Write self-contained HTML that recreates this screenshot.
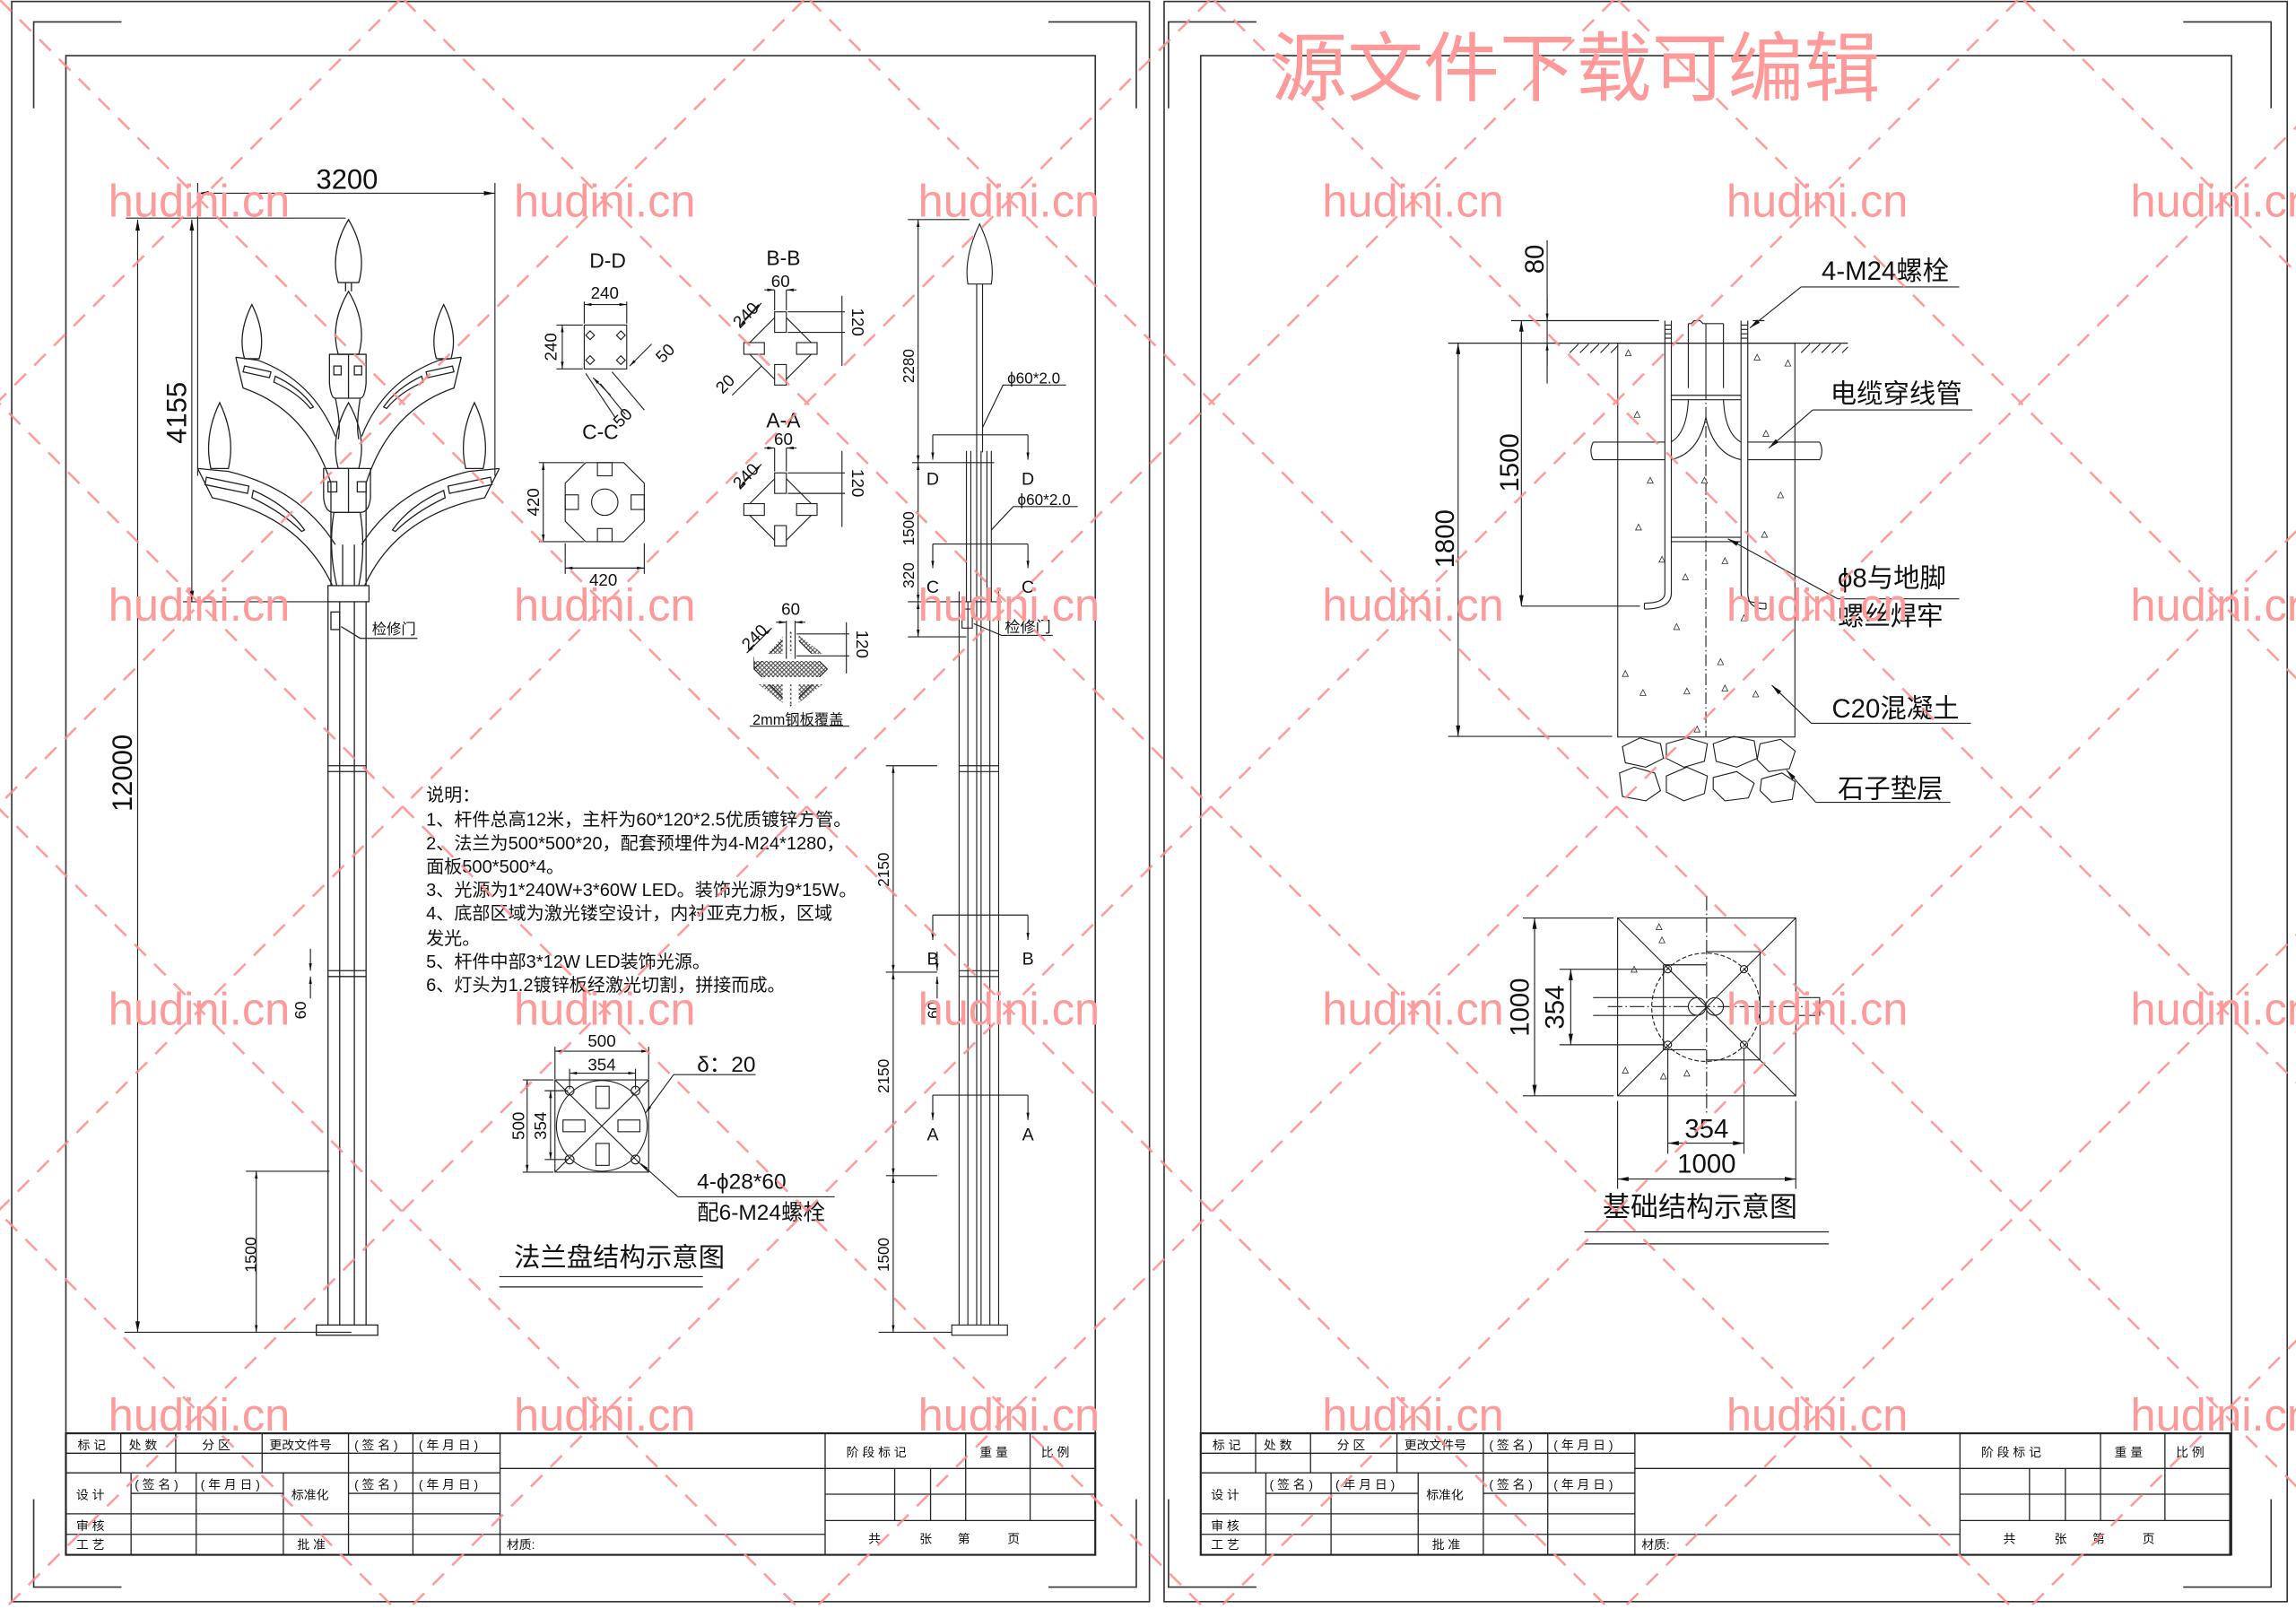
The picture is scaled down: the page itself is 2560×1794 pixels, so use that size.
<!DOCTYPE html>
<html><head><meta charset="utf-8"><style>
html,body{margin:0;padding:0;background:#fff;}
svg{display:block;}
text{font-family:"Liberation Sans","Noto Sans CJK SC",sans-serif;fill:#111;}
text.wm{fill:#ff9a9a;}
</style></head><body>
<svg width="2560" height="1794" viewBox="0 0 1568 1099" preserveAspectRatio="none" xmlns="http://www.w3.org/2000/svg">
<defs>
<marker id="ar" viewBox="0 0 10 4" refX="10" refY="2" markerWidth="8" markerHeight="3" orient="auto-start-reverse" markerUnits="userSpaceOnUse"><path d="M0,0 L10,2 L0,4z" fill="#111"/></marker>
<marker id="as" viewBox="0 0 10 4" refX="10" refY="2" markerWidth="5" markerHeight="2" orient="auto-start-reverse" markerUnits="userSpaceOnUse"><path d="M0,0 L10,2 L0,4z" fill="#111"/></marker>
<pattern id="hx" width="3" height="3" patternUnits="userSpaceOnUse"><rect width="3" height="3" fill="#fff"/><path d="M0,0L3,3M3,0L0,3" stroke="#444" stroke-width="0.6"/></pattern>
</defs>
<rect width="1568" height="1099" fill="#fff"/>

<!-- sheet frames -->
<g fill="none" stroke="#333" stroke-width="1">
<rect x="8" y="1" width="777" height="1093"/>
<rect x="795" y="1" width="767" height="1093"/>
<rect x="45" y="38" width="703" height="1024"/>
<rect x="820" y="38" width="704" height="1024"/>
<path d="M23,74V15H83 M23,1024V1084H83 M776,74V15H716 M776,1024V1084H716"/>
<path d="M798,74V15H858 M798,1024V1084H858 M1551,74V15H1491 M1551,1024V1084H1491"/>
</g>

<!-- title blocks -->
<g id="tb">
<g fill="none" stroke="#222" stroke-width="0.8">
<rect x="45" y="979" width="703" height="83" stroke-width="1.3"/>
<path d="M45,992.6H341.5 M45,1006H341.5 M341.5,979V1062 M563.5,979V1062"/>
<path d="M82.5,979V1006 M120,979V1006 M179,979V1006 M238,979V1062 M282,979V1062"/>
<path d="M89.5,1006V1062 M134,1006V1062 M193.5,1006V1062"/>
<path d="M89.5,1020H134 M134,1020H193.5 M238,1020H341.5 M45,1034H341.5 M45,1048H341.5"/>
<path d="M341.5,1003H563.5 M341.5,1048H563.5"/>
<path d="M563.5,1003H748 M563.5,1020.6H748 M563.5,1038.6H748 M659.5,979V1038.6 M703.5,979V1038.6 M611,1003V1038.6 M635.5,1003V1038.6"/>
</g>
<g font-size="8.5">
<text x="53" y="990">标 记</text><text x="88" y="990">处 数</text><text x="138" y="990">分 区</text><text x="184" y="990">更改文件号</text><text x="242" y="990">( 签 名 )</text><text x="286" y="990">( 年 月 日 )</text>
<text x="52" y="1024">设 计</text><text x="92" y="1017">( 签 名 )</text><text x="137" y="1017">( 年 月 日 )</text><text x="199" y="1024">标准化</text><text x="242" y="1017">( 签 名 )</text><text x="286" y="1017">( 年 月 日 )</text>
<text x="52" y="1045">审 核</text><text x="52" y="1058">工 艺</text><text x="203" y="1058">批 准</text><text x="346" y="1058">材质:</text>
<text x="578" y="995">阶 段 标 记</text><text x="669" y="995">重 量</text><text x="711" y="995">比 例</text>
<text x="593" y="1054">共</text><text x="628" y="1054">张</text><text x="654" y="1054">第</text><text x="688" y="1054">页</text>
</g>
</g>
<use href="#tb" transform="translate(775,0)"/>

<!-- ===== LEFT: lamp elevation ===== -->
<g fill="none" stroke="#222" stroke-width="0.8">
<path d="M238,150 Q251,172 245,193 L231,193 Q225,172 238,150Z"/>
<path d="M238,199 Q251,221 245,242 L231,242 Q225,221 238,199Z"/>
<path d="M172,208 Q182,228 177,245 L167,245 Q162,228 172,208Z"/>
<path d="M303,208 Q313,228 308,245 L298,245 Q293,228 303,208Z"/>
<path d="M150,275 Q161,298 156,320 L144,320 Q139,298 150,275Z"/>
<path d="M324,275 Q335,298 330,320 L318,320 Q313,298 324,275Z"/>
<path d="M238,275 Q251,298 245,320 L231,320 Q225,298 238,275Z"/>
<path d="M236,193V199 M240,193V199"/>
<path d="M225,242H250V262Q249,272 246,272H229Q226,272 225,262Z M238,242V272"/>
<rect x="228" y="250" width="5" height="6"/><rect x="242" y="250" width="5" height="6"/>
<path d="M229,272 Q233,290 231,300 M246,272 Q243,290 245,300"/>
<path d="M221,320H253V340Q252,350 246,350H228Q222,350 221,340Z M238,320V350"/>
<rect x="224" y="329" width="6" height="7"/><rect x="244" y="329" width="6" height="7"/>
<path d="M228,350 Q224,375 230,400 M246,350 Q250,375 245,400"/>
<path d="M161,244 L176,246 Q214,260 229,298 M161,244 L166,265 Q210,280 226,330 L226,400"/>
<path d="M315,244 L300,246 Q262,260 247,298 M315,244 L310,265 Q266,280 250,330 L250,400"/>
<path d="M167,250 L185,254 L184,258 L166,254Z M188,257 Q205,265 214,278 L212,279 Q203,268 187,261Z"/>
<path d="M309,250 L291,254 L292,258 L310,254Z M288,257 Q271,265 262,278 L264,279 Q273,268 289,261Z"/>
<path d="M135,320 L156,322 Q205,334 229,372 M135,320 L145,340 Q205,352 227,400"/>
<path d="M341,320 L320,322 Q271,334 247,372 M341,320 L331,340 Q271,352 249,400"/>
<path d="M141,326 L170,332 L169,337 L140,331Z M173,335 Q196,345 208,362 L206,363 Q193,350 172,340Z"/>
<path d="M335,326 L306,332 L307,337 L336,331Z M303,335 Q280,345 268,362 L270,363 Q283,350 304,340Z"/>
<path d="M234,372V400 M242,372V400"/>
<rect x="224" y="400" width="28" height="11"/>
<path d="M224,411V905 M250,411V905 M232,411V905 M242,411V905"/>
<path d="M224,523H250 M224,527H250 M224,663H250 M224,667H250"/>
<rect x="216" y="905" width="42" height="7"/>
<rect x="226" y="418" width="6" height="12"/>
<path d="M233,428 L246,436 H285"/>
</g>
<text x="254" y="433" font-size="10">检修门</text>
<g stroke="#222" stroke-width="0.7" fill="none">
<path d="M135,125V325 M338,125V325 M86,149H236 M125,411H226 M85,910H240 M168,800H225"/>
<line x1="135" y1="132" x2="338" y2="132" marker-start="url(#ar)" marker-end="url(#ar)"/>
<line x1="131" y1="150" x2="131" y2="411" marker-start="url(#ar)" marker-end="url(#ar)"/>
<line x1="94" y1="150" x2="94" y2="910" marker-start="url(#ar)" marker-end="url(#ar)"/>
<line x1="175" y1="800" x2="175" y2="910" marker-start="url(#as)" marker-end="url(#as)"/>
<line x1="212" y1="648" x2="212" y2="663" marker-end="url(#as)"/>
<line x1="212" y1="682" x2="212" y2="667" marker-end="url(#as)"/>
</g>
<text x="237" y="129" font-size="19" text-anchor="middle">3200</text>
<text x="127" y="282" font-size="19" text-anchor="middle" transform="rotate(-90 127 282)">4155</text>
<text x="90" y="528" font-size="19" text-anchor="middle" transform="rotate(-90 90 528)">12000</text>
<text x="175" y="857" font-size="11" text-anchor="middle" transform="rotate(-90 175 857)">1500</text>
<text x="209" y="690" font-size="11" text-anchor="middle" transform="rotate(-90 209 690)">60</text>

<!-- ===== sections ===== -->
<g font-size="14" text-anchor="middle">
<text x="415" y="183">D-D</text><text x="410" y="300">C-C</text><text x="535" y="181">B-B</text><text x="535" y="292">A-A</text>
</g>
<g fill="none" stroke="#222" stroke-width="0.7">
<rect x="399" y="222" width="29" height="30"/>
<path d="M403,226l3,3-3,3-3-3z M424,226l3,3-3,3-3-3z M403,243l3,3-3,3-3-3z M424,243l3,3-3,3-3-3z"/>
<path d="M399,206V221 M428,206V221 M380,222H398 M380,252H398 M410,262L427,283 M418,254L440,280 M400,255L420,285"/>
<line x1="399" y1="208" x2="428" y2="208" marker-start="url(#as)" marker-end="url(#as)"/>
<line x1="384" y1="222" x2="384" y2="252" marker-start="url(#as)" marker-end="url(#as)"/>
<line x1="405" y1="258" x2="417" y2="270" marker-start="url(#as)"/>
<line x1="430" y1="250" x2="445" y2="235" marker-start="url(#as)"/>
<path d="M400,316H426L440,330V356L426,370H400L386,356V330Z"/>
<circle cx="413" cy="343" r="9"/>
<rect x="408" y="316" width="10" height="9"/><rect x="408" y="361" width="10" height="9"/><rect x="386" y="338" width="9" height="10"/><rect x="431" y="338" width="9" height="10"/>
<path d="M368,316H399 M368,370H399 M386,371V392 M440,371V392"/>
<line x1="371" y1="316" x2="371" y2="370" marker-start="url(#as)" marker-end="url(#as)"/>
<line x1="386" y1="388" x2="440" y2="388" marker-start="url(#as)" marker-end="url(#as)"/>
<path d="M533,213L558,238L533,263L508,238Z"/>
<rect x="529" y="213" width="8" height="14" fill="#fff"/><rect x="529" y="249" width="8" height="14" fill="#fff"/><rect x="508" y="234" width="14" height="8" fill="#fff"/><rect x="544" y="234" width="14" height="8" fill="#fff"/>
<path d="M529,198V212 M537,198V212 M538,213H577 M538,227H577 M575,202V250 M518,208L509,218 M500,270L520,250"/>
<line x1="522" y1="198" x2="529" y2="198" marker-end="url(#as)"/><line x1="544" y1="198" x2="537" y2="198" marker-end="url(#as)"/>
<line x1="505" y1="223" x2="520" y2="207" marker-start="url(#as)" marker-end="url(#as)"/>
<path d="M533,323L558,348L533,373L508,348Z"/>
<rect x="529" y="323" width="8" height="14" fill="#fff"/><rect x="529" y="359" width="8" height="14" fill="#fff"/><rect x="508" y="344" width="14" height="8" fill="#fff"/><rect x="544" y="344" width="14" height="8" fill="#fff"/>
<path d="M529,306V322 M537,306V322 M538,323H577 M538,337H577 M575,308V360"/>
<line x1="522" y1="306" x2="529" y2="306" marker-end="url(#as)"/><line x1="544" y1="306" x2="537" y2="306" marker-end="url(#as)"/>
<line x1="505" y1="333" x2="520" y2="317" marker-start="url(#as)" marker-end="url(#as)"/>
<path d="M540,432L565,457L540,482L515,457Z M537,432V449H515V457 M543,432V449H565 M515,465H537V482 M543,482V465H565" fill="url(#hx)"/>
<path d="M537,432V449 M543,432V449 M537,482V465 M543,482V465 M515,449H565 M515,465H565" stroke="#fff" stroke-width="5"/>
<path d="M537,424V450 M543,424V450 M544,433H580 M544,448H580 M578,425V460 M512,496H580"/>
<line x1="530" y1="425" x2="537" y2="425" marker-end="url(#as)"/><line x1="550" y1="425" x2="543" y2="425" marker-end="url(#as)"/>
<line x1="510" y1="446" x2="527" y2="429" marker-start="url(#as)" marker-end="url(#as)"/>
</g>
<g font-size="11.5" text-anchor="middle">
<text x="413" y="204">240</text><text x="412" y="400">420</text><text x="533" y="196">60</text><text x="535" y="304">60</text><text x="540" y="420">60</text>
<text x="380" y="237" transform="rotate(-90 380 237)">240</text>
<text x="368" y="343" transform="rotate(-90 368 343)">420</text>
<text x="582" y="220" transform="rotate(90 582 220)">120</text>
<text x="582" y="330" transform="rotate(90 582 330)">120</text>
<text x="585" y="440" transform="rotate(90 585 440)">120</text>
<text x="512" y="218" transform="rotate(-45 512 218)">240</text>
<text x="512" y="328" transform="rotate(-45 512 328)">240</text>
<text x="518" y="438" transform="rotate(-45 518 438)">240</text>
<text x="498" y="265" transform="rotate(-45 498 265)">20</text>
<text x="457" y="244" transform="rotate(-45 457 244)">50</text>
<text x="428" y="288" transform="rotate(-45 428 288)">50</text>
<text x="545" y="495" font-size="10">2mm钢板覆盖</text>
</g>

<!-- ===== right pole (left sheet) ===== -->
<g fill="none" stroke="#222" stroke-width="0.7">
<path d="M669,153 Q680,176 677,194 L661,194 Q658,176 669,153Z"/>
<path d="M667,194V309 M671,194V309"/>
<path d="M660,308V411 M663,308V411 M667,308V411 M670,308V411 M674,308V411 M677,308V411"/>
<path d="M623,316H679 M637,297H702 M637,371.6H702"/>
<line x1="637" y1="297" x2="637" y2="314" marker-end="url(#as)"/><line x1="702" y1="297" x2="702" y2="314" marker-end="url(#as)"/>
<line x1="637" y1="371.6" x2="637" y2="388" marker-end="url(#as)"/><line x1="702" y1="371.6" x2="702" y2="388" marker-end="url(#as)"/>
<path d="M652,411H684 M655,404V411 M682,404V411"/>
<path d="M655,411V905 M682,411V905 M661,411V905 M667,411V905 M670,411V905 M676,411V905"/>
<rect x="657" y="416" width="7" height="13"/>
<path d="M665,426 L684,434 H719"/>
<path d="M620,150H662 M620,411H655 M620,435H660"/>
<line x1="627" y1="150" x2="627" y2="316" marker-start="url(#as)" marker-end="url(#as)"/>
<line x1="627" y1="316" x2="627" y2="411" marker-start="url(#as)" marker-end="url(#as)"/>
<line x1="627" y1="411" x2="627" y2="435" marker-start="url(#as)" marker-end="url(#as)"/>
<path d="M671,292 L685,263 H728 M677,362 L692,346 H736"/>
<path d="M655,523H682 M655,527H682 M655,663H682 M655,667H682"/>
<path d="M605,523H640 M605,664H640 M605,803H640 M600,910H650"/>
<line x1="610" y1="523" x2="610" y2="664" marker-start="url(#as)" marker-end="url(#as)"/>
<line x1="610" y1="664" x2="610" y2="803" marker-start="url(#as)" marker-end="url(#as)"/>
<line x1="610" y1="803" x2="610" y2="910" marker-start="url(#as)" marker-end="url(#as)"/>
<path d="M637,625H702 M637,748H702"/>
<line x1="637" y1="625" x2="637" y2="642" marker-end="url(#as)"/><line x1="702" y1="625" x2="702" y2="642" marker-end="url(#as)"/>
<line x1="637" y1="748" x2="637" y2="765" marker-end="url(#as)"/><line x1="702" y1="748" x2="702" y2="765" marker-end="url(#as)"/>
<line x1="640" y1="650" x2="640" y2="663" marker-end="url(#as)"/><line x1="640" y1="682" x2="640" y2="667" marker-end="url(#as)"/>
<rect x="650" y="905" width="38" height="7"/>
</g>
<g font-size="12" text-anchor="middle">
<text x="637" y="331">D</text><text x="702" y="331">D</text><text x="637" y="405">C</text><text x="702" y="405">C</text>
<text x="637" y="659">B</text><text x="702" y="659">B</text><text x="637" y="779">A</text><text x="702" y="779">A</text>
</g>
<g font-size="10.5" text-anchor="middle">
<text x="706" y="262">ϕ60*2.0</text><text x="713" y="345">ϕ60*2.0</text><text x="702" y="432">检修门</text>
<text x="624" y="250" transform="rotate(-90 624 250)">2280</text>
<text x="624" y="361" transform="rotate(-90 624 361)">1500</text>
<text x="624" y="393" transform="rotate(-90 624 393)">320</text>
<text x="607" y="594" transform="rotate(-90 607 594)">2150</text>
<text x="607" y="735" transform="rotate(-90 607 735)">2150</text>
<text x="607" y="857" transform="rotate(-90 607 857)">1500</text>
<text x="641" y="690" transform="rotate(-90 641 690)">60</text>
</g>

<!-- notes -->
<g font-size="12.3">
<text x="291" y="547">说明：</text>
<text x="291" y="564">1、杆件总高12米，主杆为60*120*2.5优质镀锌方管。</text>
<text x="291" y="580">2、法兰为500*500*20，配套预埋件为4-M24*1280，</text>
<text x="291" y="596">面板500*500*4。</text>
<text x="291" y="612">3、光源为1*240W+3*60W LED。装饰光源为9*15W。</text>
<text x="291" y="628">4、底部区域为激光镂空设计，内衬亚克力板，区域</text>
<text x="291" y="645">发光。</text>
<text x="291" y="661">5、杆件中部3*12W LED装饰光源。</text>
<text x="291" y="677">6、灯头为1.2镀锌板经激光切割，拼接而成。</text>
</g>

<!-- flange -->
<g fill="none" stroke="#222" stroke-width="0.7">
<rect x="379" y="737.6" width="64" height="63"/>
<circle cx="411" cy="769" r="31"/>
<path d="M379,737.6L443,800.6 M443,737.6L379,800.6"/>
<circle cx="389" cy="745" r="3"/><circle cx="434" cy="745" r="3"/><circle cx="389" cy="792" r="3"/><circle cx="434" cy="792" r="3"/>
<rect x="407" y="742" width="9" height="15"/><rect x="407" y="781" width="9" height="15"/><rect x="384.5" y="765" width="15" height="8"/><rect x="422" y="765" width="15" height="8"/>
<path d="M379,715V737 M443,715V737 M389,730V744 M434,730V744 M357,737.6H378 M357,800.6H378 M372,745H388 M372,792H388"/>
<line x1="379" y1="718" x2="443" y2="718" marker-start="url(#as)" marker-end="url(#as)"/>
<line x1="389" y1="733" x2="434" y2="733" marker-start="url(#as)" marker-end="url(#as)"/>
<line x1="360" y1="737.6" x2="360" y2="800.6" marker-start="url(#as)" marker-end="url(#as)"/>
<line x1="376" y1="745" x2="376" y2="792" marker-start="url(#as)" marker-end="url(#as)"/>
<path d="M516,734H460"/><line x1="460" y1="734" x2="441" y2="760" marker-end="url(#as)"/>
<path d="M570,817.5H463"/><line x1="463" y1="817.5" x2="438" y2="795" marker-end="url(#as)"/>
<path d="M341,872H480 M341,879H480"/>
</g>
<g font-size="11.5" text-anchor="middle">
<text x="411" y="715">500</text><text x="411" y="731">354</text>
<text x="358" y="769" transform="rotate(-90 358 769)">500</text>
<text x="373" y="769" transform="rotate(-90 373 769)">354</text>
</g>
<text x="476" y="732" font-size="15">δ：20</text>
<text x="476" y="812" font-size="15">4-ϕ28*60</text>
<text x="476" y="833" font-size="15">配6-M24螺栓</text>
<text x="351" y="865" font-size="18">法兰盘结构示意图</text>

<!-- ===== RIGHT: foundation ===== -->
<g fill="none" stroke="#222" stroke-width="0.7">
<rect x="1104.8" y="234.4" width="121" height="269"/>
<path d="M1068,234.4H1262 M1032,219H1133 M1197,219H1205"/>
<path d="M1072,241l6,-6 M1079,241l6,-6 M1086,241l6,-6 M1093,241l6,-6 M1100,241l5,-5 M1230,241l6,-6 M1237,241l6,-6 M1244,241l6,-6 M1251,241l6,-6 M1258,241l4,-4"/>
<path d="M1137,219V405 Q1137,412 1123,412 M1141.4,219V405 Q1141.4,416 1123,416 M1123,412V416"/>
<path d="M1189,219V405 Q1189,412 1206,412 M1193.6,219V405 Q1193.6,416 1206,416 M1206,412V416"/>
<path d="M1137,222H1141.4 M1137,225H1141.4 M1137,228H1141.4 M1137,231H1141.4 M1189,222H1193.6 M1189,225H1193.6 M1189,228H1193.6 M1189,231H1193.6"/>
<path d="M1153,221V265 M1177,221V265 M1165,221V265 M1153,221h2l2,-2h4l2,2h2 M1165,221h12"/>
<path d="M1141,270H1189 M1141,273H1189 M1141,367H1189 M1141,370H1189"/>
<path d="M1153,273 Q1152,296 1141,302 M1177,273 Q1178,296 1189,302 M1165,285 Q1160,310 1141,314 M1165,285 Q1170,310 1189,314"/>
<path d="M1165,265V503" stroke-dasharray="8,2,1,2"/>
<path d="M1088,302H1137 M1088,314H1137 M1193.6,302H1242.7 M1193.6,314H1242.7 M1088,302q-3,6 0,12 M1242.7,302q3,6 0,12"/>
<path d="M1108,510 l12,-6 14,4 2,10 -12,6 -14,-3z M1138,508 l14,-4 14,4 -2,12 -14,4 -12,-6z M1170,508 l14,-5 14,3 2,12 -14,6 -14,-4z M1202,508 l14,-3 10,8 -4,12 -14,2 -8,-8z M1106,528 l10,-4 14,4 4,12 -10,7 -16,-3z M1138,530 l14,-6 14,6 -2,12 -14,5 -12,-6z M1170,531 l16,-4 12,8 -4,10 -16,2 -8,-8z M1203,532 l14,-4 9,6 -2,12 -14,2 -8,-8z"/>
</g>
<g fill="none" stroke="#333" stroke-width="0.5">
<path d="M1110,243l2,-4 2,4z M1198,246l2,-4 2,4z M1116,285l2,-4 2,4z M1219,250l2,-4 2,4z M1204,298l2,-4 2,4z M1125,330l2,-4 2,4z M1162,330l2,-4 2,4z M1214,340l2,-4 2,4z M1117,362l2,-4 2,4z M1203,367l2,-4 2,4z M1133,384l2,-4 2,4z M1176,385l2,-4 2,4z M1149,396l2,-4 2,4z M1189,424l2,-4 2,4z M1143,430l2,-4 2,4z M1173,454l2,-4 2,4z M1108,462l2,-4 2,4z M1120,475l2,-4 2,4z M1150,474l2,-4 2,4z M1176,472l2,-4 2,4z M1197,476l2,-4 2,4z M1157,500l2,-4 2,4z"/>
</g>
<g fill="none" stroke="#222" stroke-width="0.7">
<path d="M1056.6,164V262 M1039,414H1120 M989,503H1101 M989,234.4H1068"/>
<line x1="1056.6" y1="204" x2="1056.6" y2="219" marker-end="url(#as)"/><line x1="1056.6" y1="250" x2="1056.6" y2="234.4" marker-end="url(#as)"/>
<line x1="1039" y1="219" x2="1039" y2="414" marker-start="url(#ar)" marker-end="url(#ar)"/>
<line x1="995.8" y1="234.4" x2="995.8" y2="503" marker-start="url(#ar)" marker-end="url(#ar)"/>
<path d="M1338,196H1230"/><line x1="1230" y1="196" x2="1195" y2="224" marker-end="url(#ar)"/>
<path d="M1347,280H1238"/><line x1="1238" y1="280" x2="1208" y2="306" marker-end="url(#ar)"/>
<path d="M1338,409H1255"/><line x1="1255" y1="409" x2="1180" y2="368" marker-end="url(#ar)"/>
<path d="M1346,494H1237"/><line x1="1237" y1="494" x2="1210" y2="468" marker-end="url(#ar)"/>
<path d="M1332,548H1240"/><line x1="1240" y1="548" x2="1220" y2="526" marker-end="url(#ar)"/>
</g>
<g font-size="18">
<text x="1054" y="177" text-anchor="middle" transform="rotate(-90 1054 177)">80</text>
<text x="1037" y="316" text-anchor="middle" transform="rotate(-90 1037 316)">1500</text>
<text x="993" y="368" text-anchor="middle" transform="rotate(-90 993 368)">1800</text>
<text x="1244" y="191">4-M24螺栓</text>
<text x="1250" y="275">电缆穿线管</text>
<text x="1255" y="401">ϕ8与地脚</text>
<text x="1255" y="427">螺丝焊牢</text>
<text x="1251" y="490">C20混凝土</text>
<text x="1255" y="545">石子垫层</text>
</g>

<!-- plan view -->
<g fill="none" stroke="#222" stroke-width="0.7">
<rect x="1104.7" y="627" width="121.7" height="121.5"/>
<path d="M1104.7,627L1226.4,748.5 M1226.4,627L1104.7,748.5"/>
<circle cx="1165" cy="688" r="37" stroke-dasharray="3,1.5"/>
<path d="M1136,659V717H1165 M1136,659H1165 M1165,650H1202V724H1165"/>
<circle cx="1139" cy="662" r="2.5"/><circle cx="1191" cy="662" r="2.5"/><circle cx="1139" cy="713.6" r="2.5"/><circle cx="1191" cy="713.6" r="2.5"/>
<circle cx="1159" cy="687.5" r="6"/><circle cx="1171" cy="687.5" r="6"/>
<path d="M1088,681.4H1158 M1088,693.6H1158 M1226.8,681.4H1242.7V693.6H1226.8"/>
<path d="M1165.5,612V760 M1098,687.5H1232" stroke-dasharray="10,2,1,2"/>
<path d="M1040,627H1102 M1040,748.5H1102 M1065,662H1136 M1065,713.6H1136 M1139,716V788 M1191,716V788 M1104.7,752V812 M1226.4,752V812"/>
<line x1="1048" y1="627" x2="1048" y2="748.5" marker-start="url(#ar)" marker-end="url(#ar)"/>
<line x1="1072.7" y1="662" x2="1072.7" y2="713.6" marker-start="url(#ar)" marker-end="url(#ar)"/>
<line x1="1139" y1="780.8" x2="1191" y2="780.8" marker-start="url(#ar)" marker-end="url(#ar)"/>
<line x1="1104.7" y1="805.3" x2="1226.4" y2="805.3" marker-start="url(#ar)" marker-end="url(#ar)"/>
<path d="M1082,841.4H1249 M1082,849.6H1249"/>
</g>
<path d="M1131,635l2,-4 2,4z M1133,644l2,-4 2,4z M1108,733l2,-4 2,4z M1134,737l2,-4 2,4z M1150,735l2,-4 2,4z M1114,664l2,-4 2,4z" fill="none" stroke="#333" stroke-width="0.5"/>
<g font-size="18" text-anchor="middle">
<text x="1044" y="688" transform="rotate(-90 1044 688)">1000</text>
<text x="1068" y="688" transform="rotate(-90 1068 688)">354</text>
<text x="1165.5" y="777">354</text>
<text x="1165.5" y="801">1000</text>
<text x="1161" y="831" font-size="19">基础结构示意图</text>
</g>

<!-- ===== watermark ===== -->
<g stroke="#ff8c8c" stroke-width="1.6" stroke-dasharray="11,8" opacity="0.85">
<line x1="-1105" y1="0" x2="-6" y2="1099"/><line x1="-829" y1="0" x2="270" y2="1099"/><line x1="-553" y1="0" x2="546" y2="1099"/><line x1="-276" y1="0" x2="823" y2="1099"/><line x1="0" y1="0" x2="1099" y2="1099"/><line x1="276" y1="0" x2="1375" y2="1099"/><line x1="553" y1="0" x2="1652" y2="1099"/><line x1="829" y1="0" x2="1928" y2="1099"/><line x1="1105" y1="0" x2="2204" y2="1099"/><line x1="1382" y1="0" x2="2481" y2="1099"/>
<line x1="273" y1="0" x2="-826" y2="1099"/><line x1="549" y1="0" x2="-550" y2="1099"/><line x1="826" y1="0" x2="-273" y2="1099"/><line x1="1102" y1="0" x2="3" y2="1099"/><line x1="1378" y1="0" x2="279" y2="1099"/><line x1="1655" y1="0" x2="556" y2="1099"/><line x1="1931" y1="0" x2="832" y2="1099"/><line x1="2207" y1="0" x2="1108" y2="1099"/><line x1="2484" y1="0" x2="1385" y2="1099"/>
</g>
<g font-size="31" text-anchor="middle">
<text class="wm" x="136" y="148">hudini.cn</text><text class="wm" x="413" y="148">hudini.cn</text><text class="wm" x="689" y="148">hudini.cn</text><text class="wm" x="965" y="148">hudini.cn</text><text class="wm" x="1241" y="148">hudini.cn</text><text class="wm" x="1517" y="148">hudini.cn</text>
<text class="wm" x="136" y="424">hudini.cn</text><text class="wm" x="413" y="424">hudini.cn</text><text class="wm" x="689" y="424">hudini.cn</text><text class="wm" x="965" y="424">hudini.cn</text><text class="wm" x="1241" y="424">hudini.cn</text><text class="wm" x="1517" y="424">hudini.cn</text>
<text class="wm" x="136" y="700">hudini.cn</text><text class="wm" x="413" y="700">hudini.cn</text><text class="wm" x="689" y="700">hudini.cn</text><text class="wm" x="965" y="700">hudini.cn</text><text class="wm" x="1241" y="700">hudini.cn</text><text class="wm" x="1517" y="700">hudini.cn</text>
<text class="wm" x="136" y="977">hudini.cn</text><text class="wm" x="413" y="977">hudini.cn</text><text class="wm" x="689" y="977">hudini.cn</text><text class="wm" x="965" y="977">hudini.cn</text><text class="wm" x="1241" y="977">hudini.cn</text><text class="wm" x="1517" y="977">hudini.cn</text>
</g>
<text class="wm" x="1076" y="65" font-size="52" text-anchor="middle">源文件下载可编辑</text>
</svg>
</body></html>
